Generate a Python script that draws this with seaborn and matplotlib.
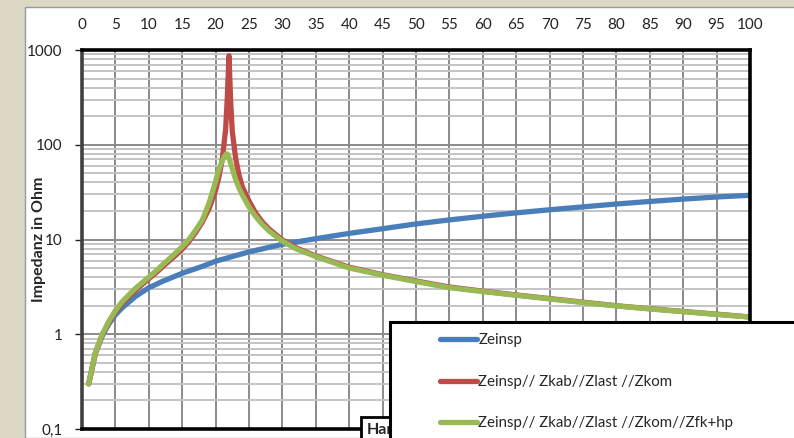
import matplotlib
matplotlib.use('Agg')  # Headless
import matplotlib.pyplot as plt
import seaborn as sns
from matplotlib.patches import Rectangle
from matplotlib.ticker import LogLocator, NullFormatter

# harmonic order vs impedance
h_einsp = [1, 2, 3, 4, 5, 6, 8, 10, 12, 15, 18, 20, 25, 30, 35, 40, 45, 50,
           55, 60, 65, 70, 75, 80, 85, 90, 95, 100]
z_einsp = [0.30, 0.63, 0.95, 1.28, 1.6, 1.9, 2.5, 3.1, 3.6, 4.4, 5.2, 5.9, 7.4,
           8.9, 10.2, 11.6, 13.0, 14.6, 16.1, 17.6, 19.1, 20.6, 22.1, 23.7,
           25.2, 26.7, 28.1, 29.3]

h_par = [1, 2, 3, 4, 5, 6, 7, 8, 9, 10, 11, 12, 13, 14, 15, 16, 17, 18, 19, 20,
         20.5, 21, 21.5, 21.75, 22, 22.25, 22.5, 23, 23.5, 24, 25, 26, 27, 28,
         30, 32, 35, 40, 45, 50, 55, 60, 65, 70, 75, 80, 85, 90, 95, 100]
z_kom = [0.30, 0.63, 0.97, 1.33, 1.72, 2.1, 2.5, 2.9, 3.35, 3.85, 4.4, 5.1,
         5.9, 6.8, 7.9, 9.5, 11.8, 15.2, 21, 33, 46, 70, 145, 310, 870, 290,
         138, 72, 48, 36, 25.5, 19, 15.3, 12.9, 9.9, 8.2, 6.7, 5.1, 4.25, 3.65,
         3.15, 2.85, 2.6, 2.38, 2.18, 2.0, 1.86, 1.74, 1.63, 1.52]
z_fk = [0.30, 0.64, 0.99, 1.36, 1.78, 2.2, 2.6, 3.05, 3.5, 4.0, 4.6, 5.35,
        6.2, 7.2, 8.4, 10.0, 12.5, 16, 24, 41, 55, 68, 79, 80, 73, 64, 56, 43,
        35, 29.5, 22, 17.5, 14.4, 12.3, 9.6, 8.0, 6.6, 5.0, 4.2, 3.6, 3.1,
        2.82, 2.58, 2.36, 2.16, 1.99, 1.85, 1.73, 1.62, 1.52]

labels = ['Zeinsp', 'Zeinsp// Zkab//Zlast //Zkom',
          'Zeinsp// Zkab//Zlast //Zkom//Zfk+hp']
colors = ['#4A7EBB', '#BE4B48', '#98B954']

x_ticks = list(range(0, 101, 5))
y_ticks = [0.1, 1, 10, 100, 1000]
y_tick_labels = ['0,1', '1', '10', '100', '1000']

sns.set_style('white')
plt.rcParams['font.family'] = ['Lato', 'DejaVu Sans']

W, H = 794, 438
fig = plt.figure(figsize=(W / 100, H / 100), dpi=100, facecolor='#DDD8C3')

# white chart area
fig.patches.append(Rectangle((25 / W, 0), 1, 1 - 7 / H, transform=fig.transFigure,
                             facecolor='white', edgecolor='#9a9a9a', lw=1, zorder=-1))

ax = fig.add_axes([82 / W, 9 / H, 668 / W, 379 / H])
for xs, ys, c, lab in zip([h_einsp, h_par, h_par], [z_einsp, z_kom, z_fk], colors, labels):
    sns.lineplot(x=xs, y=ys, color=c, linewidth=3.8, label=lab, ax=ax, legend=False)

ax.set_yscale('log')
ax.set_xlim(0, 100)
ax.set_ylim(0.1, 1000)
ax.set_xticks(x_ticks)
ax.set_yticks(y_ticks, y_tick_labels)
ax.yaxis.set_minor_locator(LogLocator(base=10, subs=range(2, 10)))
ax.yaxis.set_minor_formatter(NullFormatter())
ax.xaxis.tick_top()
ax.tick_params(axis='x', length=0, pad=13, labelsize=11, colors='#222222')
ax.tick_params(axis='y', which='major', left=True, length=5, width=1, pad=9,
               labelsize=11, colors='#222222')
ax.tick_params(axis='y', which='minor', length=0)

ax.set_axisbelow(True)
ax.grid(which='major', axis='both', color='#8a8a8a', lw=1.4)
ax.grid(which='minor', axis='y', color='#c4c4c4', lw=1.4)

for side in ['top', 'right', 'bottom']:
    ax.spines[side].set_color('black')
    ax.spines[side].set_linewidth(2.6)
ax.spines['left'].set_color('#404040')
ax.spines['left'].set_linewidth(2.6)

ax.set_ylabel('Impedanz in Ohm', fontsize=11.5, fontweight='bold')
ax.yaxis.set_label_coords(-0.054, 0.5)

# x axis title, mostly hidden behind the legend
fig.text(367 / W, 1 - 434 / H, 'Harmonische', fontsize=11.5, fontweight='bold',
         ha='left', va='baseline',
         bbox=dict(boxstyle='square,pad=0.4', facecolor='white', edgecolor='black', lw=2))

# legend box
fig.patches.append(Rectangle((390 / W, -0.1), 0.6, 0.1 + 1 - 322 / H,
                             transform=fig.transFigure, facecolor='white',
                             edgecolor='black', lw=2.2, zorder=4))
handles, _ = ax.get_legend_handles_labels()
fig.legend(handles, labels, loc='upper left', bbox_to_anchor=(440 / W, 1 - 333 / H),
           frameon=False, fontsize=10.8, borderpad=0, borderaxespad=0,
           handlelength=2.45, handletextpad=0.1, labelspacing=1.85).set_zorder(5)

plt.savefig('out.png', dpi=100)
plt.close()
